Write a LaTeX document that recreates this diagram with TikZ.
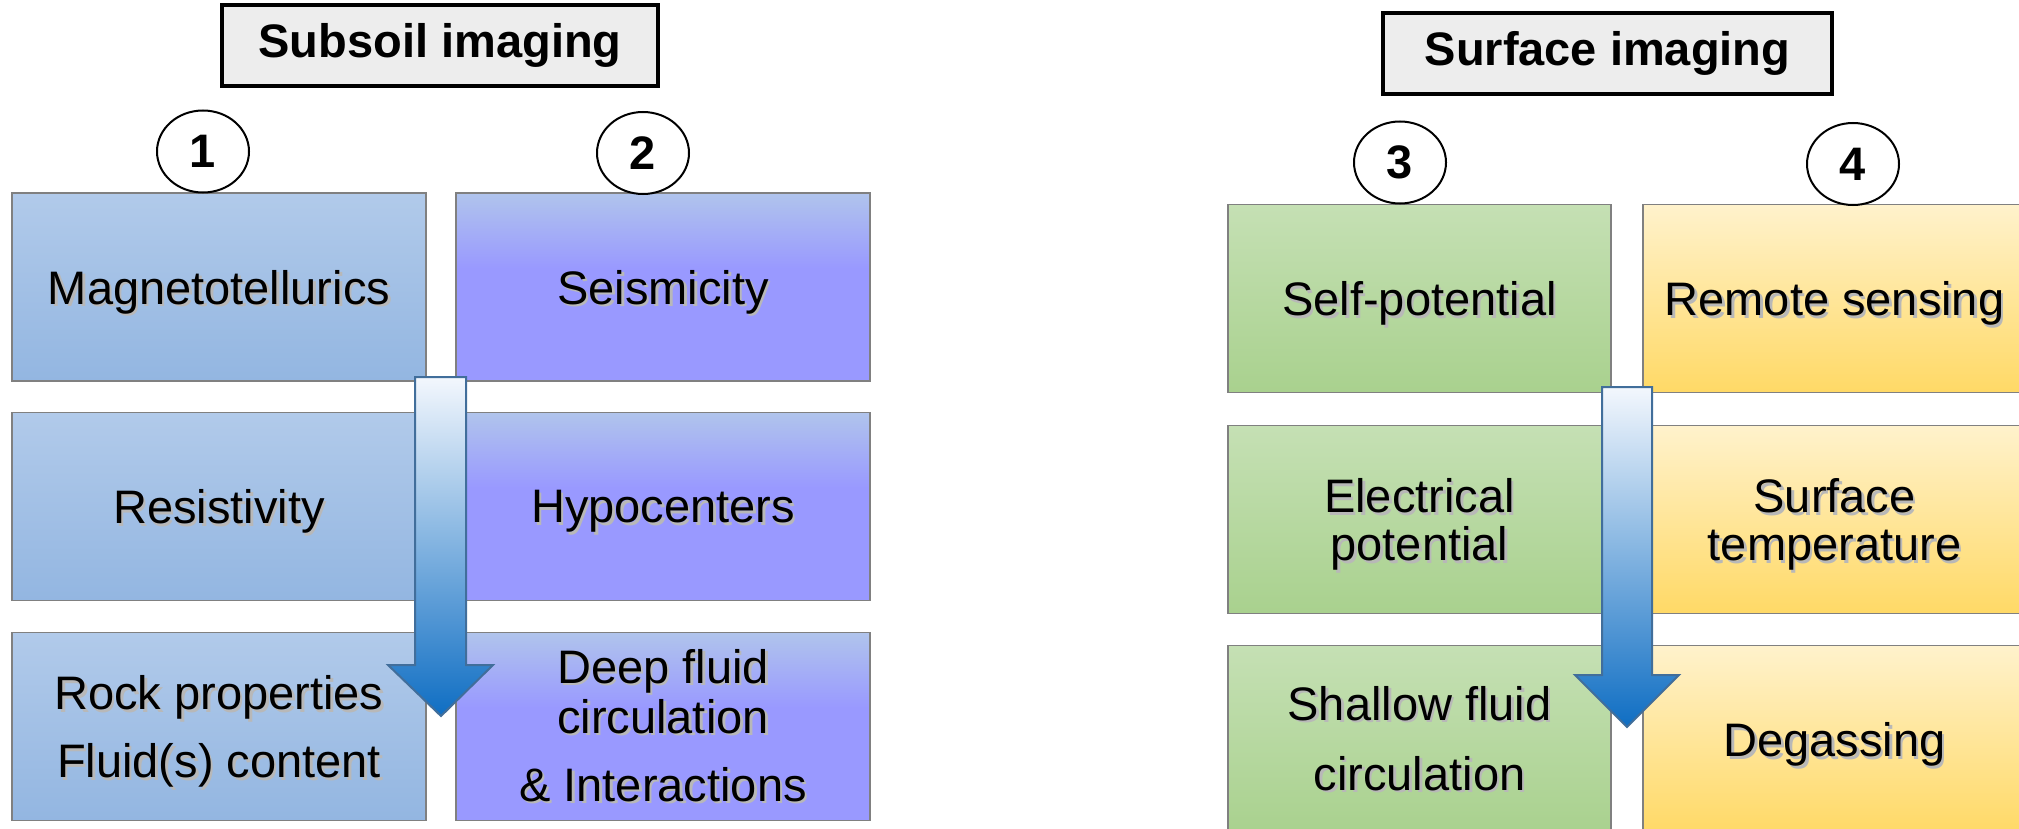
\documentclass[tikz,border=0pt]{standalone}
\usepackage{fontspec}
\setmainfont{Liberation Sans}
\usetikzlibrary{shapes.geometric}
\definecolor{blT}{RGB}{177,202,234}
\definecolor{blB}{RGB}{147,182,225}
\definecolor{purpT}{RGB}{176,196,236}
\definecolor{purpB}{RGB}{153,153,255}
\definecolor{grT}{RGB}{197,224,180}
\definecolor{grB}{RGB}{169,209,142}
\definecolor{yeT}{RGB}{255,242,204}
\definecolor{yeB}{RGB}{255,217,102}
\definecolor{boxline}{RGB}{128,128,128}
\definecolor{titlefill}{RGB}{237,237,237}
\definecolor{arT}{RGB}{243,247,253}
\definecolor{arM}{RGB}{165,200,232}
\definecolor{arB}{RGB}{15,110,195}
\definecolor{arline}{RGB}{65,110,155}
\pgfdeclareverticalshading{purpshade}{100bp}{color(0bp)=(purpB); color(25bp)=(purpB); color(55bp)=(purpB); color(75bp)=(purpT); color(100bp)=(purpT)}
\newcommand\shd[1]{\leavevmode\rlap{\kern1.3pt\raisebox{-1.3pt}{\textcolor{black!28}{#1}}}#1}
\tikzset{
  box/.style={rectangle, draw=boxline, line width=0.9pt, minimum width=207pt, minimum height=94pt, inner sep=0pt, align=center, font=\fontsize{23.5}{34}\selectfont},
  nodepth/.style={text depth=0pt},
  bluebox/.style={box, top color=blT, bottom color=blB},
  purpbox/.style={box, shade, shading=purpshade},
  greenbox/.style={box, minimum width=191.5pt, top color=grT, bottom color=grB},
  yellowbox/.style={box, minimum width=191.5pt, top color=yeT, bottom color=yeB},
  titlebox/.style={rectangle, draw=black, line width=1.8pt, fill=titlefill, inner sep=0pt, minimum height=40.5pt, font=\fontsize{23.5}{28}\selectfont\bfseries},
  numcircle/.style={ellipse, draw=black, line width=1pt, fill=white, minimum width=46pt, minimum height=41pt, inner sep=0pt, font=\fontsize{23.5}{28}\selectfont\bfseries},
  downarrow/.style={draw=arline, line width=1pt, top color=arT, middle color=arM, bottom color=arB},
}
\begin{document}
\begin{tikzpicture}[x=0.5pt,y=-0.5pt]
\useasboundingbox (0,0) rectangle (2019,829);
\clip (0,0) rectangle (2019,829);
% titles
\node[titlebox, minimum width=218pt] (tsub) at (440,45.5) {Subsoil imaging};
\node[titlebox, minimum width=224.5pt] (tsurf) at (1607.5,53.5) {Surface imaging};
% left group
\node[bluebox, nodepth] (mag) at (219,287) {\shd{Magnetotellurics}};
\node[purpbox, nodepth] (seis) at (663,287) {\shd{Seismicity}};
\node[bluebox, nodepth] (res) at (219,506.5) {\shd{Resistivity}};
\node[purpbox, nodepth] (hypo) at (663,506.5) {\shd{Hypocenters}};
\node[bluebox, nodepth] (rock) at (219,726.5) {\shd{Rock properties}\\\shd{Fluid(s) content}};
\node[purpbox, font=\fontsize{23.5}{25}\selectfont] (deep) at (663,726.5) {\shd{Deep fluid}\\\shd{circulation}\\[9pt]\shd{\& Interactions}};
% right group
\node[greenbox, nodepth] (self) at (1419.5,298.5) {\shd{Self-potential}};
\node[yellowbox, nodepth] (remote) at (1834.5,298.5) {\shd{Remote sensing}};
\node[greenbox, nodepth, font=\fontsize{23.5}{24}\selectfont] (elec) at (1419.5,519.5) {\shd{Electrical}\\\shd{potential}};
\node[yellowbox, nodepth, font=\fontsize{23.5}{24}\selectfont] (stemp) at (1834.5,519.5) {\shd{Surface}\\\shd{temperature}};
\node[greenbox, font=\fontsize{23.5}{35}\selectfont] (shallow) at (1419.5,739.5) {\shd{Shallow fluid}\\\shd{circulation}};
\node[yellowbox, nodepth] (degas) at (1834.5,739.5) {\shd{Degassing}};
% numbers
\node[numcircle] (n1) at (203,151.5) {1};
\node[numcircle] (n2) at (643,153) {2};
\node[numcircle] (n3) at (1400,162.5) {3};
\node[numcircle] (n4) at (1853,164) {4};
% arrows
\path[downarrow] (415,377) -- (466,377) -- (466,665) -- (493,665) -- (441,716) -- (388,665) -- (415,665) -- cycle;
\path[downarrow] (1602,387) -- (1652,387) -- (1652,675) -- (1679,675) -- (1627,727) -- (1575,675) -- (1602,675) -- cycle;
\end{tikzpicture}
\end{document}
